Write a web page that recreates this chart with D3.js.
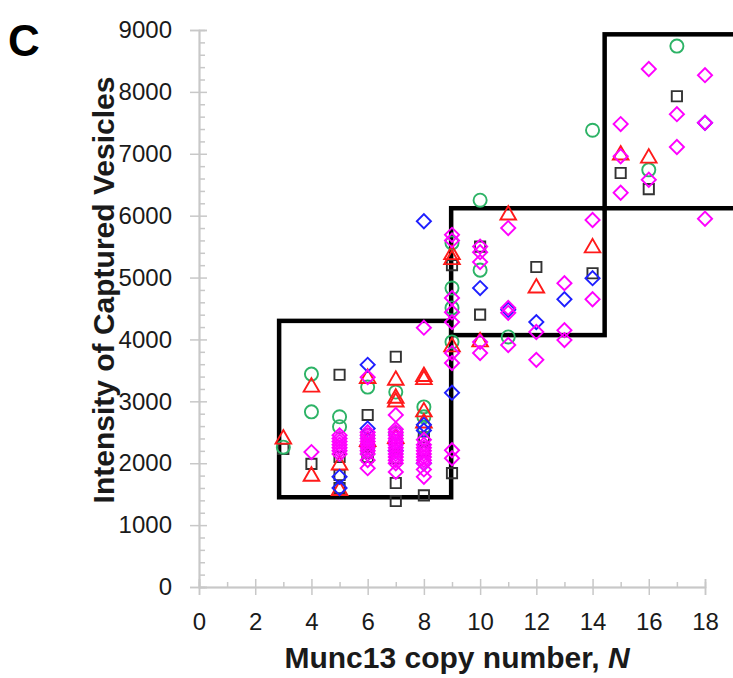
<!DOCTYPE html>
<html><head><meta charset="utf-8">
<script src="https://cdn.jsdelivr.net/npm/d3@7"></script>
<style>body{margin:0;background:#fff}svg{display:block;font-family:"Liberation Sans",Arial,sans-serif}</style>
</head><body><svg id="c" width="733" height="678"></svg>
<script>
// ---- data ----
const xTicks = [0,2,4,6,8,10,12,14,16,18];
const yTicks = [0,1000,2000,3000,4000,5000,6000,7000,8000,9000];
const squares = [[3,2230],[4,1990],[5,3430],[5,2100],[5,1810],[5,1600],[6,2780],[6,2170],[6,2100],[6,2300],[7,3720],[7,2080],[7,1680],[7,1390],[7,2300],[8,2420],[8,2350],[8,2200],[8,1480],[9,5200],[9,1840],[10,5500],[10,4400],[12,5170],[14,5070],[15,6690],[16,6430],[17,7930]];
const circles = [[3,2260],[4,3440],[4,2830],[5,2750],[5,2590],[6,3230],[6,2450],[6,2200],[7,3150],[7,2480],[8,2910],[8,2750],[8,2580],[9,5560],[9,4830],[9,4510],[9,3960],[10,6250],[10,5120],[11,4040],[14,7380],[16,6740],[17,8740]];
const triangles = [[3,2390],[4,3230],[4,1790],[5,1970],[5,1560],[6,3370],[6,2350],[7,3340],[7,3050],[7,2990],[7,2400],[8,3400],[8,3350],[8,2830],[8,2650],[9,5370],[9,5290],[9,3880],[10,3960],[11,6010],[12,4830],[14,5480],[15,6980],[16,6930]];
const blueDiamonds = [[5,1780],[5,1600],[6,3590],[6,2560],[7,2200],[8,5910],[8,2620],[8,2530],[8,2000],[9,3140],[10,4830],[11,4480],[12,4280],[13,4650],[14,4990],[18,7500]];
const magentaDiamonds = [[4,2180],
 [5,2450],[5,2400],[5,2350],[5,2300],[5,2250],[5,2200],[5,2150],
 [6,3390],[6,2500],[6,2450],[6,2400],[6,2350],[6,2300],[6,2250],[6,2200],[6,2150],[6,2050],[6,1920],
 [7,2780],[7,2550],[7,2500],[7,2450],[7,2400],[7,2350],[7,2300],[7,2250],[7,2200],[7,2150],[7,2100],[7,2050],[7,2000],[7,1860],
 [8,4190],[8,2380],[8,2300],[8,2250],[8,2200],[8,2150],[8,2100],[8,2050],[8,2000],[8,1900],[8,1780],
 [9,5690],[9,5600],[9,4670],[9,4440],[9,4280],[9,3780],[9,3620],[9,2210],[9,2080],
 [10,5500],[10,5410],[10,5250],[10,3960],[10,3780],
 [11,5800],[11,4510],[11,4430],[11,3910],
 [12,4120],[12,3670],
 [13,4910],[13,4150],[13,3990],
 [14,5930],[14,4650],
 [15,7480],[15,6960],[15,6370],
 [16,8370],[16,6580],
 [17,7640],[17,7110],
 [18,8270],[18,7500],[18,5950]];
// boxes [x0,x1,y0,y1] in data units
const boxes = [[2.85,8.97,1450,4300],[8.97,14.43,4070,6120],[14.43,19.5,6120,8930]];

// ---- layout ----
const svg = d3.select("#c");
const x = d3.scaleLinear().domain([0,18]).range([199,705]);
const y = d3.scaleLinear().domain([0,9000]).range([587,30]);
const axisCol = "#c8c8c8";

// y axis
const gy = svg.append("g").attr("transform","translate(199,0)");
gy.call(d3.axisLeft(y).tickValues(yTicks).tickSize(9).tickPadding(18).tickFormat(d3.format("d")));
gy.append("g").call(d3.axisRight(y).tickValues(yTicks).tickSize(8).tickFormat(""));
gy.append("g").call(d3.axisRight(y).tickValues(d3.range(200,9000,200).filter(v=>v%1000)).tickSize(6).tickFormat(""));
// x axis
const gx = svg.append("g").attr("transform","translate(0,587)");
gx.call(d3.axisBottom(x).tickValues(xTicks).tickSize(8).tickPadding(18));
gx.append("g").call(d3.axisTop(x).tickValues(xTicks).tickSize(8).tickFormat(""));
gx.append("g").call(d3.axisTop(x).tickValues(d3.range(1,18,2)).tickSize(5).tickFormat(""));
svg.selectAll(".domain").attr("stroke",axisCol).attr("stroke-width",1.5);
svg.selectAll(".tick line").attr("stroke",axisCol).attr("stroke-width",1.5);
svg.selectAll(".tick text").attr("font-size",24).attr("fill","#1a1a1a").attr("font-family","Liberation Sans, Arial, sans-serif");
gx.selectAll(".tick text").attr("dy","0.72em");

// boxes
svg.append("g").selectAll("rect").data(boxes).join("rect")
  .attr("x",d=>x(d[0])).attr("width",d=>x(d[1])-x(d[0]))
  .attr("y",d=>y(d[3])).attr("height",d=>y(d[2])-y(d[3]))
  .attr("fill","none").attr("stroke","#000").attr("stroke-width",4.5);

function plot(data, type, size, color, rot){
  svg.append("g").selectAll("path").data(data).join("path")
    .attr("d", d3.symbol().type(type).size(size))
    .attr("transform", d=>`translate(${x(d[0])},${y(d[1])})${rot?" rotate(45)":""}`)
    .attr("fill","none").attr("stroke",color).attr("stroke-width",1.9);
}
plot(squares, d3.symbolSquare, 105, "#333333", false);
plot(circles, d3.symbolCircle, 135, "#2db366", false);
plot(triangles, d3.symbolTriangle, 105, "#ff1a1a", false);
plot(blueDiamonds, d3.symbolSquare, 100, "#1f1fff", true);
plot(magentaDiamonds, d3.symbolSquare, 100, "#ff00ff", true);

// titles
svg.append("text").attr("x",457).attr("y",668).attr("text-anchor","middle")
  .attr("font-size",30).attr("font-weight","bold").attr("fill","#1a1a1a")
  .html('Munc13 copy number, <tspan font-style="italic">N</tspan>');
svg.append("text").attr("transform","translate(114,290) rotate(-90)").attr("text-anchor","middle")
  .attr("font-size",30).attr("font-weight","bold").attr("fill","#1a1a1a")
  .text("Intensity of Captured Vesicles");
svg.append("text").attr("x",8).attr("y",56).attr("font-size",44).attr("font-weight","bold").attr("fill","#000").text("C");
</script></body></html>
